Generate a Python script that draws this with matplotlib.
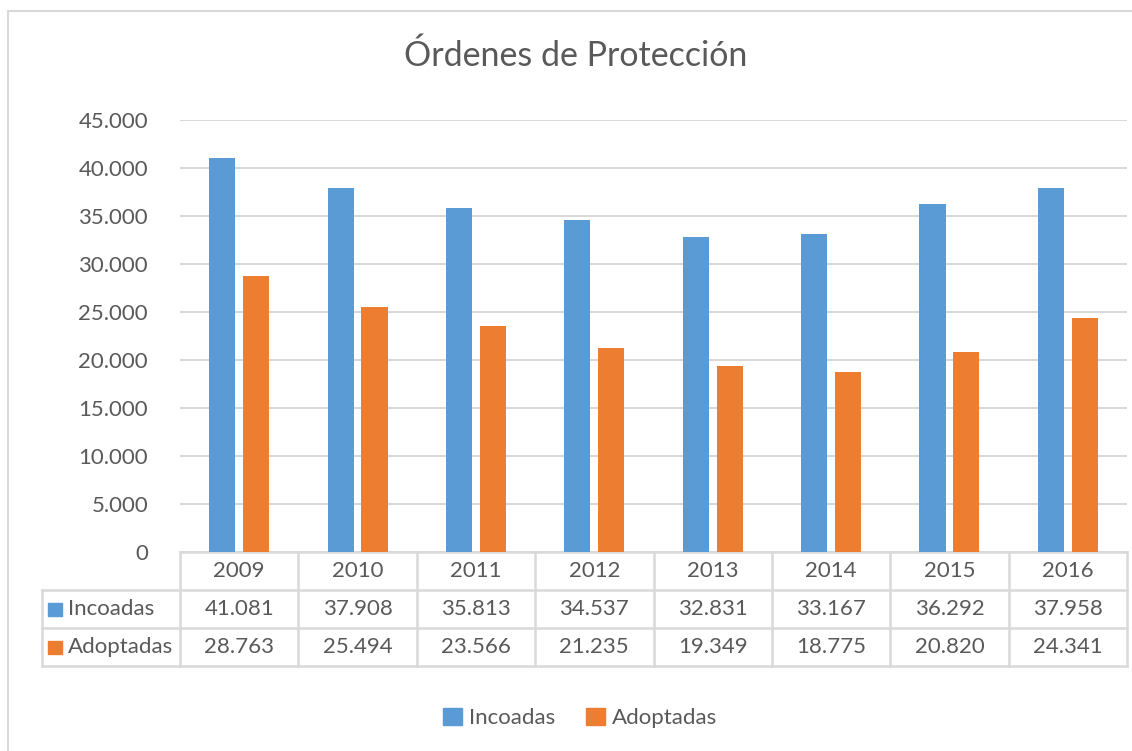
import matplotlib
matplotlib.use("Agg")
import matplotlib.pyplot as plt
from matplotlib.patches import Patch, Rectangle
from matplotlib.ticker import FuncFormatter, MultipleLocator
from matplotlib.transforms import blended_transform_factory

plt.rcParams['font.family'] = ['Lato', 'DejaVu Sans']

# datos
anios = ["2009", "2010", "2011", "2012", "2013", "2014", "2015", "2016"]
incoadas = [41081, 37908, 35813, 34537, 32831, 33167, 36292, 37958]
adoptadas = [28763, 25494, 23566, 21235, 19349, 18775, 20820, 24341]
series = ["Incoadas", "Adoptadas"]
titulo = "Órdenes de Protección"

azul = "#5B9BD5"
naranja = "#ED7D31"
gris_txt = "#595959"
gris_lin = "#D9D9D9"

W, H = 1132, 751


def miles(v, pos=None):
    return f"{int(v):,}".replace(",", ".")


def fy(py):
    # pixel vertical -> fraccion de figura
    return 1 - py / H


fig = plt.figure(figsize=(W / 100, H / 100), dpi=100)
ax = fig.add_axes([180 / W, fy(552), (1127 - 180) / W, (552 - 120) / H])

x = list(range(len(anios)))
ancho = 0.22
desp = 0.143
ax.bar([i - desp for i in x], incoadas, ancho, color=azul, zorder=3)
ax.bar([i + desp for i in x], adoptadas, ancho, color=naranja, zorder=3)

ax.set_xlim(-0.5, len(anios) - 0.5)
ax.set_ylim(0, 45000)
ax.yaxis.set_major_locator(MultipleLocator(5000))
ax.yaxis.set_major_formatter(FuncFormatter(miles))
ax.grid(axis="y", color=gris_lin, linewidth=1.5, zorder=0)
ax.set_xticks([])
ax.tick_params(axis="y", length=0, pad=23, labelsize=16, labelcolor=gris_txt)
for s in ax.spines.values():
    s.set_visible(False)

# titulo
fig.text(576 / W, fy(56), titulo, ha="center", va="center",
         fontsize=24.5, color=gris_txt)

# tabla de datos
tr = blended_transform_factory(ax.transData, fig.transFigure)
filas = [552, 589.5, 628, 666]
x_izq = -0.5 - (180 - 42) / ((1127 - 180) / len(anios))
x_der = len(anios) - 0.5
kw = dict(color=gris_lin, linewidth=1.8, transform=tr, clip_on=False)

ax.plot([-0.5, x_der], [fy(filas[0])] * 2, **kw)
for f in filas[1:]:
    ax.plot([x_izq, x_der], [fy(f)] * 2, **kw)
for i in range(len(anios) + 1):
    ax.plot([i - 0.5] * 2, [fy(filas[0]), fy(filas[3])], **kw)
ax.plot([x_izq] * 2, [fy(filas[1]), fy(filas[3])], **kw)

for i, a in enumerate(anios):
    ax.text(i, fy((filas[0] + filas[1]) / 2), a, transform=tr, ha="center",
            va="center", fontsize=16, color=gris_txt)
    ax.text(i, fy((filas[1] + filas[2]) / 2), miles(incoadas[i]), transform=tr,
            ha="center", va="center", fontsize=16, color=gris_txt)
    ax.text(i, fy((filas[2] + filas[3]) / 2), miles(adoptadas[i]), transform=tr,
            ha="center", va="center", fontsize=16, color=gris_txt)

# etiquetas de fila con su color
for k, (nombre, col) in enumerate(zip(series, [azul, naranja])):
    yc = (filas[k + 1] + filas[k + 2]) / 2
    fig.patches.append(Rectangle((48 / W, fy(yc + 7)), 14 / W, 13 / H,
                                 transform=fig.transFigure, color=col))
    fig.text(68 / W, fy(yc), nombre, ha="left", va="center",
             fontsize=16, color=gris_txt)

# leyenda
manijas = [Patch(color=azul), Patch(color=naranja)]
fig.legend(manijas, series, loc="center", bbox_to_anchor=(580 / W, fy(718)),
           ncol=2, frameon=False, fontsize=16, labelcolor=gris_txt,
           handlelength=0.85, handleheight=0.85, handletextpad=0.3,
           columnspacing=1.4)

# marco del grafico
fig.patches.append(Rectangle((8 / W, -0.05), 1.2, fy(11) + 0.05,
                             transform=fig.transFigure, fill=False,
                             edgecolor=gris_lin, linewidth=1.5))

fig.savefig("out.png", dpi=100)
